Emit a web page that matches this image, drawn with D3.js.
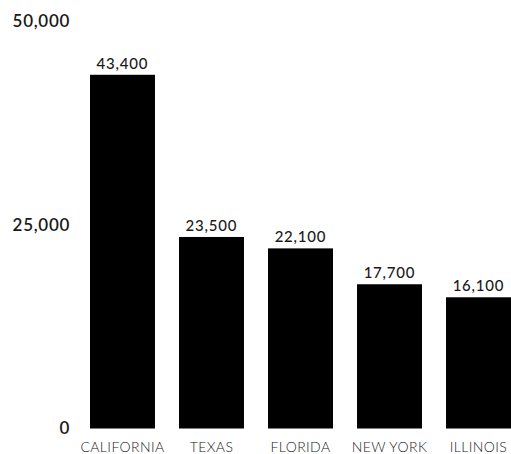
<!DOCTYPE html>
<html>
<head>
<meta charset="utf-8">
<script src="https://cdn.jsdelivr.net/npm/d3@7"></script>
<style>
  html, body { margin: 0; padding: 0; background: #fff; }
  svg { display: block; }
  text { font-family: "Lato", "Open Sans", sans-serif; }
</style>
</head>
<body>
<svg id="chart" width="511" height="454"></svg>
<script>
// Population-style values per state
const states = ["CALIFORNIA", "TEXAS", "FLORIDA", "NEW YORK", "ILLINOIS"];
const values = [43400, 23500, 22100, 17700, 16100];
const yTicks = [0, 25000, 50000];

const svg = d3.select("#chart");
const fmt = d3.format(",");

const x = d3.scaleBand()
  .domain(states)
  .range([90, 511])
  .paddingInner(0.27)
  .paddingOuter(0);

const y = d3.scaleLinear()
  .domain([0, 50000])
  .range([428.5, 21]);

// y axis labels only, no line or ticks
const yAxis = d3.axisLeft(y).tickValues(yTicks).tickFormat(fmt).tickSize(0).tickPadding(0);
const gy = svg.append("g").attr("transform", "translate(70,0)").call(yAxis);
gy.select(".domain").remove();
gy.selectAll("text")
  .attr("fill", "#1a1a1a")
  .style("font-size", "17px")
  .style("font-weight", "600")
  .style("letter-spacing", "0.7px")
  .style("font-family", "Lato, sans-serif");

// bars
svg.append("g").selectAll("rect")
  .data(states)
  .join("rect")
  .attr("x", d => x(d))
  .attr("width", x.bandwidth())
  .attr("y", (d, i) => y(values[i]))
  .attr("height", (d, i) => y(0) - y(values[i]))
  .attr("fill", "#000");

// value labels above bars
svg.append("g").selectAll("text")
  .data(states)
  .join("text")
  .attr("x", d => x(d) + x.bandwidth() / 2)
  .attr("y", (d, i) => y(values[i]) - 6)
  .attr("text-anchor", "middle")
  .attr("fill", "#1a1a1a")
  .style("font-size", "15px")
  .style("font-weight", "500")
  .style("letter-spacing", "0.8px")
  .text((d, i) => fmt(values[i]));

// category axis labels
const xAxis = d3.axisBottom(x).tickSize(0).tickPadding(0);
const gx = svg.append("g").attr("transform", "translate(0,452)").call(xAxis);
gx.select(".domain").remove();
gx.selectAll("text")
  .attr("dy", 0)
  .attr("fill", "#222")
  .style("font-size", "14px")
  .style("font-weight", "300")
  .style("letter-spacing", "0.4px")
  .style("font-family", "Lato, sans-serif");
</script>
</body>
</html>
